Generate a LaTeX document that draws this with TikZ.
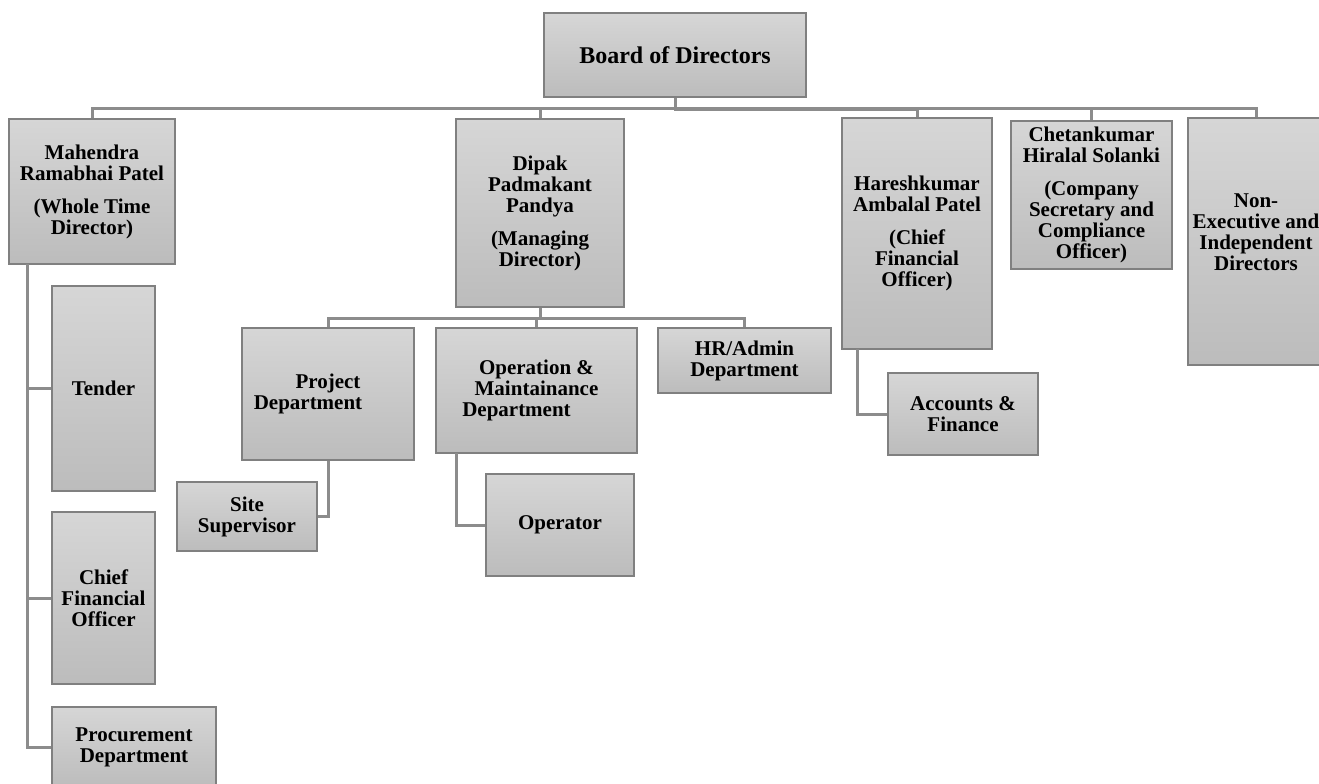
\documentclass[tikz,border=0pt]{standalone}
\usepackage{fontspec}
\setmainfont{Liberation Serif}
\usepackage{xcolor}
\definecolor{OrgTop}{HTML}{D6D6D6}
\definecolor{OrgBottom}{HTML}{BCBCBC}
\definecolor{OrgBorder}{HTML}{808080}
\definecolor{OrgLine}{HTML}{8C8C8C}

\begin{document}
\begin{tikzpicture}[x=0.5pt, y=-0.5pt,
    orgbox/.style={draw=OrgBorder, line width=0.75pt, top color=OrgTop, bottom color=OrgBottom,
        align=center, inner sep=1pt, font=\bfseries\fontsize{10.5}{10.5}\selectfont},
    orgline/.style={draw=OrgLine, line width=1.5pt}]
    \useasboundingbox (0,0) rectangle (1319,783);

    % Top level
    \node[orgbox, minimum width=131pt, minimum height=42pt, font=\bfseries\fontsize{12}{12}\selectfont] (board) at (675,55) {Board of Directors};

    % Directors and officers
    \node[orgbox, minimum width=83pt, minimum height=72.5pt] (mahendra) at (92,191.5) {Mahendra\\Ramabhai Patel\\[6pt](Whole Time\\Director)};
    \node[orgbox, minimum width=84pt, minimum height=94pt] (dipak) at (540,213) {Dipak\\Padmakant\\Pandya\\[6pt](Managing\\Director)};
    \node[orgbox, minimum width=75pt, minimum height=115.5pt] (haresh) at (917,233.5) {Hareshkumar\\Ambalal Patel\\[6pt](Chief\\Financial\\Officer)};
    \node[orgbox, minimum width=80.5pt, minimum height=74pt] (chetan) at (1091.5,195) {Chetankumar\\Hiralal Solanki\\[6pt](Company\\Secretary and\\Compliance\\Officer)};
    \node[orgbox, minimum width=68pt, minimum height=123.5pt] (nonexec) at (1256,241.5) {Non-\\Executive and\\Independent\\Directors\\[-1.5pt]};

    % Under the whole time director
    \node[orgbox, minimum width=51.5pt, minimum height=102.5pt] (tender) at (103.5,388.5) {Tender};
    \node[orgbox, minimum width=51.5pt, minimum height=86pt] (cfo) at (103.5,598) {Chief\\Financial\\Officer};
    \node[orgbox, minimum width=82pt, minimum height=40pt] (procure) at (134,747) {Procurement\\Department};

    % Under the managing director
    \node[orgbox, minimum width=86pt, minimum height=66pt] (project) at (328,394) {Project\\Department\hspace*{20pt}};
    \node[orgbox, minimum width=100.5pt, minimum height=62.5pt] (operation) at (536.5,390.5) {Operation \&\\Maintainance\\Department\hspace*{20pt}};
    \node[orgbox, minimum width=86.5pt, minimum height=32.5pt] (hradmin) at (744.5,360.5) {HR/Admin\\Department};
    \node[orgbox, minimum width=70pt, minimum height=34.5pt] (site) at (247,516.5) {Site\\Supervisor};
    \node[orgbox, minimum width=74pt, minimum height=51pt] (operator) at (560,525) {Operator};

    % Under the chief financial officer
    \node[orgbox, minimum width=75pt, minimum height=41pt] (accounts) at (963,414) {Accounts \&\\Finance};

    % Connectors from the board
    \coordinate (bus) at (0,108);
    \coordinate (hbus) at (0,109.5);
    \foreach \kid in {mahendra,dipak,chetan,nonexec}
        \draw[orgline] (board.south) -- (board.south |- bus) -| (\kid.north);
    \draw[orgline] (board.south) -- (board.south |- hbus) -| (haresh.north);

    % Connectors from the managing director
    \coordinate (dbus) at (0,318);
    \foreach \kid in {project,operation,hradmin}
        \draw[orgline] (dipak.south) -- (dipak.south |- dbus) -| (\kid.north);

    % Side connectors
    \coordinate (mspine) at (27,264);
    \foreach \kid in {tender,cfo,procure}
        \draw[orgline] (mspine) |- (\kid.west);
    \draw[orgline] (project.south) |- (site.east);
    \coordinate (ospine) at (456,453);
    \draw[orgline] (ospine) |- (operator.west);
    \coordinate (hspine) at (857,349);
    \draw[orgline] (hspine) |- (accounts.west);
\end{tikzpicture}
\end{document}
